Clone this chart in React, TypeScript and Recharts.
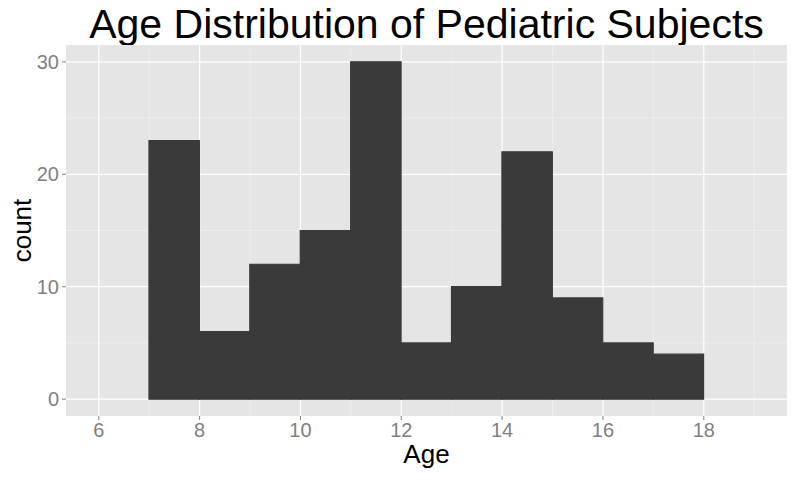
import React from "react";
import { ComposedChart, Bar, XAxis, YAxis, CartesianGrid, Rectangle } from "recharts";

const binStarts = [7, 8, 9, 10, 11, 12, 13, 14, 15, 16, 17];
const counts = [23, 6, 12, 15, 30, 5, 10, 22, 9, 5, 4];
const xTicks = [6, 8, 10, 12, 14, 16, 18];
const xMinor = [7, 9, 11, 13, 15, 17, 19];
const yTicks = [0, 10, 20, 30];
const yMinor = [5, 15, 25];

const data = binStarts.map((s, i) => ({ mid: s + 0.5, count: counts[i] }));

const W = 800;
const H = 481;
const M = { top: 45, right: 13, bottom: 0, left: 0 };
const YW = 66;
const XH = 65;
const xDomain: [number, number] = [5.35, 19.65];
const yDomain: [number, number] = [-1.5, 31.5];
const plotW = W - M.left - M.right - YW;
const pxPerUnit = plotW / (xDomain[1] - xDomain[0]);

const FONT = "'Liberation Sans', Arial, Helvetica, sans-serif";

const BinShape = (props: any) => {
  const { x, width, y, height, fill } = props;
  const cx = x + width / 2;
  return (
    <Rectangle
      x={cx - pxPerUnit / 2}
      y={y}
      width={pxPerUnit}
      height={height}
      fill={fill}
      stroke={fill}
      strokeWidth={1.2}
    />
  );
};

export default function App() {
  return (
    <div style={{ position: "absolute", left: 0, top: 0, width: W, height: H, background: "#fff", fontFamily: FONT }}>
      <div
        style={{
          position: "absolute",
          left: M.left + YW,
          width: plotW,
          top: 2,
          textAlign: "center",
          fontSize: 41,
          color: "#000",
          lineHeight: "44px",
          whiteSpace: "nowrap",
        }}
      >
        Age Distribution of Pediatric Subjects
      </div>
      <ComposedChart width={W} height={H} data={data} margin={M} barCategoryGap={0} barGap={0}>
        <CartesianGrid
          fill="#E5E5E5"
          stroke="#F2F2F2"
          strokeWidth={0.6}
          verticalValues={xMinor}
          horizontalValues={yMinor}
        />
        <CartesianGrid
          fill="none"
          stroke="#FFFFFF"
          strokeWidth={1.2}
          verticalValues={xTicks}
          horizontalValues={yTicks}
        />
        <XAxis
          dataKey="mid"
          type="number"
          domain={xDomain}
          ticks={xTicks}
          allowDataOverflow
          axisLine={false}
          tickLine={{ stroke: "#7F7F7F" }}
          tickSize={4}
          tickMargin={3}
          height={XH}
          tick={{ fill: "#7F7F7F", fontSize: 20, fontFamily: FONT }}
          label={{ value: "Age", position: "insideTop", offset: 29, fill: "#000", fontSize: 26, fontFamily: FONT }}
        />
        <YAxis
          type="number"
          domain={yDomain}
          ticks={yTicks}
          allowDataOverflow
          axisLine={false}
          tickLine={{ stroke: "#7F7F7F" }}
          tickSize={4}
          tickMargin={3}
          width={YW}
          tick={{ fill: "#7F7F7F", fontSize: 20, fontFamily: FONT }}
          label={{ value: "count", angle: -90, position: "insideLeft", offset: 22, fill: "#000", fontSize: 26, fontFamily: FONT, style: { textAnchor: "middle" } }}
        />
        <Bar dataKey="count" fill="#3A3A3A" shape={BinShape} isAnimationActive={false} />
      </ComposedChart>
    </div>
  );
}
